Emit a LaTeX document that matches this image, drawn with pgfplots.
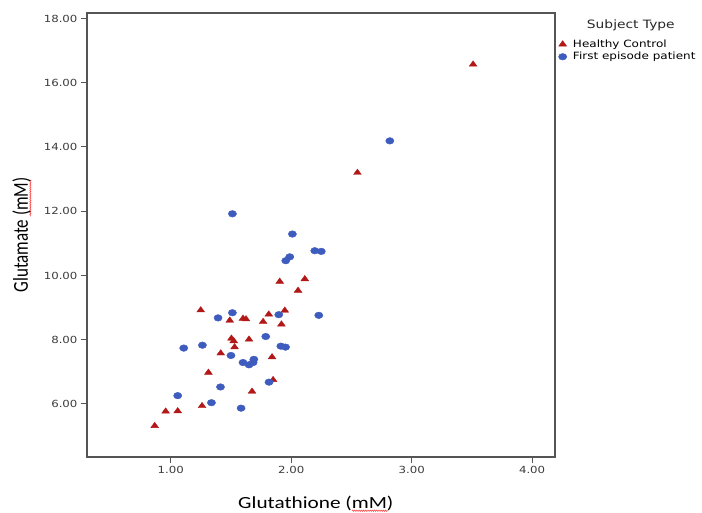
\documentclass[border=0pt]{standalone}
\usepackage{pgfplots}
\pgfplotsset{compat=1.18}
\usetikzlibrary{decorations.pathmorphing}
\usepackage{fontspec}
\setmainfont{DejaVu Sans}
\newfontfamily\tickfont[FakeStretch=1.2]{DejaVu Sans}
\newfontfamily\legfont[FakeStretch=1.2]{DejaVu Sans}
\newfontfamily\labfontx[FakeStretch=1.25]{Carlito}
\newfontfamily\labfont{Carlito}
\definecolor{hcred}{RGB}{178,24,24}
\definecolor{fepblue}{RGB}{62,91,190}
\definecolor{axgray}{RGB}{85,85,85}
\definecolor{tickgray}{RGB}{60,60,60}
\begin{document}
\begin{tikzpicture}
\useasboundingbox (0,0) rectangle (702pt,512pt);
\begin{axis}[
  at={(87pt,55pt)}, anchor=south west,
  scale only axis, width=468pt, height=444pt,
  xmin=0.305, xmax=4.19, ymin=4.35, ymax=18.17,
  xtick={1,2,3,4}, ytick={6,8,10,12,14,16,18},
  xtick pos=bottom, ytick pos=left,
  tick align=outside, major tick length=6pt,
  axis line style={axgray, line width=1.2pt},
  tick style={axgray, line width=1pt},
  /pgf/number format/assume math mode=true,
  /pgf/number format/.cd, fixed, fixed zerofill, precision=2, /pgfplots/.cd,
  ticklabel style={font=\tickfont\fontsize{9.8}{11}\selectfont, text=tickgray},
  xlabel={\labfontx\fontsize{17}{20}\selectfont Glutathione (mM)},
  ylabel={\scalebox{1}[1.25]{\labfont\fontsize{17}{20}\selectfont Glutamate (mM)}},
  xlabel style={at={(axis description cs:0.489,-0.104)}, anchor=center},
  ylabel style={at={(axis description cs:-0.14,0.5)}, anchor=center},
  legend style={at={(1.005,0.943)}, anchor=north west, draw=none, fill=none,
    font=\legfont\fontsize{10}{11}\selectfont, inner xsep=1pt, inner ysep=0pt, row sep=1pt,
    nodes={inner sep=1.2pt},
    /tikz/every odd column/.append style={column sep=5pt}},
  legend cell align=left,
  clip=false,
]
\addplot[only marks, mark=triangle*, mark size=3.6pt, color=hcred, mark options={xscale=1.25}] coordinates {
(3.51,16.57) (2.55,13.20) (1.905,9.81) (2.113,9.89) (2.057,9.53)
(1.249,8.92) (1.814,8.79) (1.947,8.91) (1.49,8.60) (1.60,8.66)
(1.625,8.64) (1.767,8.56) (1.919,8.48) (1.504,8.04) (1.523,7.96)
(1.65,8.01) (1.53,7.77) (1.415,7.58) (1.841,7.46) (1.313,6.98)
(1.85,6.75) (1.675,6.39) (1.26,5.94) (0.958,5.77) (1.058,5.78)
(0.867,5.32)
};
\addlegendentry{Healthy Control}
\addplot[only marks, mark=*, mark size=3.3pt, color=fepblue, mark options={xscale=1.25}] coordinates {
(2.819,14.19) (1.512,11.92) (2.01,11.29) (1.955,10.46) (1.988,10.58)
(2.196,10.77) (2.25,10.75) (1.512,8.84) (1.393,8.68) (1.897,8.78)
(2.229,8.76) (1.789,8.10) (1.108,7.74) (1.263,7.83) (1.914,7.80)
(1.953,7.77) (1.50,7.51) (1.60,7.29) (1.65,7.22) (1.69,7.39)
(1.684,7.29) (1.816,6.68) (1.413,6.53) (1.058,6.26) (1.338,6.04)
(1.584,5.87)
};
\addlegendentry{First episode patient}
\node[anchor=center, font=\legfont\fontsize{11.5}{13}\selectfont, text=black!85] at (axis description cs:1.162,0.973) {Subject Type};
\draw[red!80, line width=0.5pt, decorate, decoration={snake, amplitude=0.7pt, segment length=2.2pt}]
  (axis description cs:0.566,-0.121) -- (axis description cs:0.643,-0.121);
\draw[red!80, line width=0.5pt, decorate, decoration={snake, amplitude=0.7pt, segment length=2.2pt}]
  (axis description cs:-0.121,0.624) -- (axis description cs:-0.121,0.542);
\end{axis}
\end{tikzpicture}
\end{document}
